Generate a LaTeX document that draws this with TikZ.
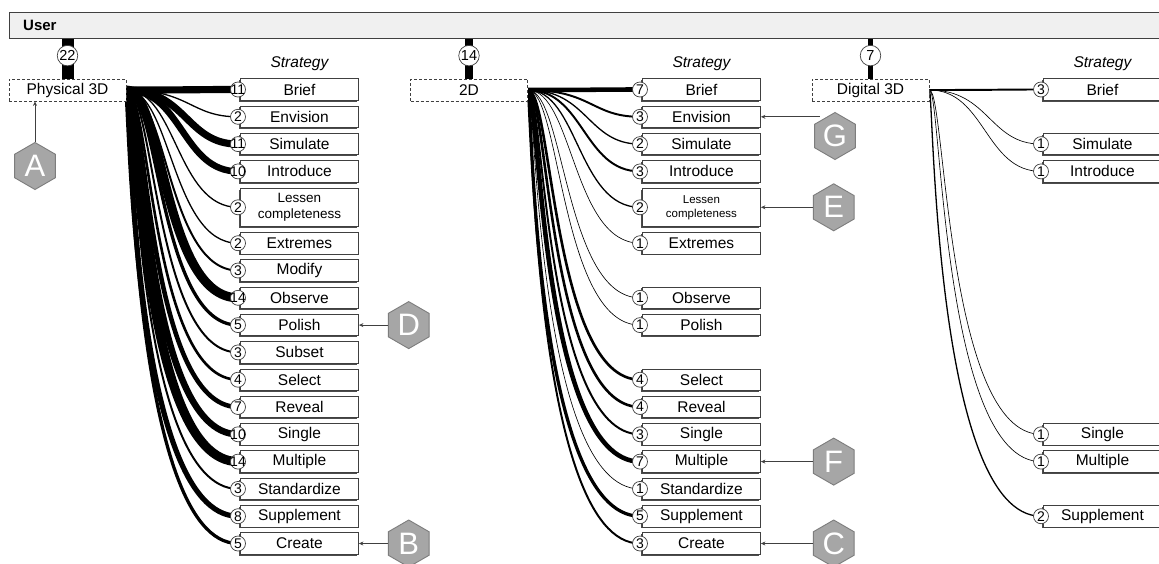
\documentclass[tikz,border=0pt]{standalone}
\usepackage{fontspec}
\setmainfont{Liberation Sans}
\usepackage{tikz}
\usetikzlibrary{positioning, arrows.meta, backgrounds, calc, shapes.geometric, shadows}
\definecolor{ukGray}{RGB}{ 64, 64, 64}
\definecolor{ukBar}{RGB}{240,240,240}
\definecolor{ukHex}{RGB}{166,166,166}
\definecolor{ukHexE}{RGB}{125,125,125}

\newcommand\fs[1]{\fontsize{#1}{#1}\selectfont}
\newcommand\nbox[1]{\makebox[0pt]{#1}}

\begin{document}
\begin{tikzpicture}[x=1pt, y=-1pt,
    every node/.style={font=\fs{15.5}},
    userbar/.style={draw=ukGray, fill=ukBar, line width=0.9pt, minimum width=1170pt,
                    minimum height=26pt, anchor=north west},
    source/.style={draw=ukGray, dash pattern=on 3pt off 2pt, line width=0.8pt, fill=white,
                   minimum width=117pt, minimum height=22pt, inner sep=0pt},
    strat/.style={draw=ukGray, fill=white, line width=0.9pt, minimum width=118pt,
                  minimum height=21.5pt, inner sep=0pt, anchor=west,
                  drop shadow={shadow xshift=-1.2pt, shadow yshift=-1.4pt, fill=black!70, opacity=1}},
    tall/.style={strat, minimum height=38pt, align=center},
    tally/.style={circle, draw=ukGray, fill=white, line width=0.7pt, minimum size=15pt,
                  inner sep=0pt, font=\fs{14}},
    toptally/.style={tally, minimum size=20.5pt, font=\fs{14.5}},
    heading/.style={font=\fs{15.5}\itshape, inner sep=0pt},
    hexa/.style={regular polygon, regular polygon sides=6, shape border rotate=30,
                 minimum size=47pt, inner sep=0pt, fill=ukHex, draw=ukHexE, line width=0.9pt,
                 text=white, font=\fs{31}},
    pointer/.style={draw=ukGray, line width=0.8pt, -{Stealth[length=4.5pt, width=4pt]}},
    flow/.style={line width=#1*0.65pt},
    trunk/.style={line width=#1*0.5pt+1pt}
  ]
  \useasboundingbox (0,0) rectangle (1159,563);
  \begin{scope}[on background layer]
    \fill[white] (0,0) rectangle (1159,563);
  \end{scope}

  % user bar
  \node[userbar] (user) at (9,12) {};
  \node[font=\fs{15}\bfseries, inner sep=0pt, right=14pt of user.west] (userlbl) {User};

  % sources
  \node[source] (p3d) at (67.5,90) {Physical 3D};
  \node[source] (flat) at (469,90) {2D};
  \node[source] (dig) at (870.5,90) {Digital 3D};

  \draw[trunk=22] (p3d.north) -- (p3d.north |- user.south);
  \draw[trunk=14] (flat.north) -- (flat.north |- user.south);
  \draw[trunk=7] (dig.north) -- (dig.north |- user.south);
  \node[toptally] (p3dn) at ([yshift=23pt]p3d.north) {22};
  \node[toptally] (flatn) at ([yshift=23pt]flat.north) {14};
  \node[toptally] (dign) at ([yshift=23pt]dig.north) {7};

  % physical 3D strategies
  \foreach \st/\yy/\nn in {Brief/89.5/11, Envision/116.8/2, Simulate/144.1/11, Introduce/171.4/10,
      Extremes/243.2/2, Modify/270.5/3, Observe/297.8/14, Polish/325.1/5, Subset/352.4/3,
      Select/379.7/4, Reveal/407/7, Single/434.3/10, Multiple/461.6/14, Standardize/488.9/3,
      Supplement/516.2/8, Create/543.5/5} {
    \node[strat] (p-\st) at (240,\yy) {\st};
    \node[tally] (pc-\st) at ([xshift=-2pt]p-\st.west) {\nbox{\nn}};
    \pgfmathsetmacro\bend{max(4,68-0.15*(\yy-89.5))}
    \begin{scope}[on background layer]
      \draw[flow=\nn] (p3d.east) .. controls +(\bend,0) and ($(p3d.east |- pc-\st)+(\bend,0)$) .. (pc-\st.center);
    \end{scope}
  }
  \node[tall, font=\fontsize{13.5}{16.5}\selectfont] (p-Lessen) at (240,207.3) {Lessen\\completeness};
  \node[tally] (pc-Lessen) at ([xshift=-2pt]p-Lessen.west) {2};
  \begin{scope}[on background layer]
    \draw[flow=2] (p3d.east) .. controls +(50,0) and ($(p3d.east |- pc-Lessen)+(50,0)$) .. (pc-Lessen.center);
  \end{scope}
  \node[heading, above=7pt of p-Brief] (p-head) {Strategy};

  % 2D strategies
  \foreach \st/\yy/\nn in {Brief/89.5/7, Envision/116.8/3, Simulate/144.1/2, Introduce/171.4/3,
      Extremes/243.2/1, Observe/297.8/1, Polish/325.1/1, Select/379.7/4, Reveal/407/4,
      Single/434.3/3, Multiple/461.6/7, Standardize/488.9/1, Supplement/516.2/5, Create/543.5/3} {
    \node[strat] (f-\st) at (642,\yy) {\st};
    \node[tally] (fc-\st) at ([xshift=-2pt]f-\st.west) {\nbox{\nn}};
    \pgfmathsetmacro\bend{max(4,68-0.15*(\yy-89.5))}
    \begin{scope}[on background layer]
      \draw[flow=\nn] (flat.east) .. controls +(\bend,0) and ($(flat.east |- fc-\st)+(\bend,0)$) .. (fc-\st.center);
    \end{scope}
  }
  \node[tall, font=\fontsize{11.5}{14}\selectfont] (f-Lessen) at (642,207.3) {Lessen\\completeness};
  \node[tally] (fc-Lessen) at ([xshift=-2pt]f-Lessen.west) {2};
  \begin{scope}[on background layer]
    \draw[flow=2] (flat.east) .. controls +(50,0) and ($(flat.east |- fc-Lessen)+(50,0)$) .. (fc-Lessen.center);
  \end{scope}
  \node[heading, above=7pt of f-Brief] (f-head) {Strategy};

  % digital 3D strategies
  \foreach \st/\yy/\nn in {Brief/89.5/3, Simulate/144.1/1, Introduce/171.4/1,
      Single/434.3/1, Multiple/461.6/1, Supplement/516.2/2} {
    \node[strat] (d-\st) at (1043,\yy) {\st};
    \node[tally] (dc-\st) at ([xshift=-2pt]d-\st.west) {\nbox{\nn}};
    \pgfmathsetmacro\bend{max(4,68-0.15*(\yy-89.5))}
    \begin{scope}[on background layer]
      \draw[flow=\nn] (dig.east) .. controls +(\bend,0) and ($(dig.east |- dc-\st)+(\bend,0)$) .. (dc-\st.center);
    \end{scope}
  }
  \node[heading, above=7pt of d-Brief] (d-head) {Strategy};

  % markers
  \node[hexa] (hexA) at (35,166) {A};
  \node[hexa, right=29pt of p-Polish] (hexD) {D};
  \node[hexa, right=29pt of p-Create] (hexB) {B};
  \node[hexa] (hexG) at (835,136) {G};
  \node[hexa, right=52pt of f-Lessen] (hexE) {E};
  \node[hexa, right=52pt of f-Multiple] (hexF) {F};
  \node[hexa, right=52pt of f-Create] (hexC) {C};

  \draw[pointer] (hexA.north) -- (hexA.north |- p3d.south);
  \draw[pointer] (hexD.west) -- (p-Polish.east);
  \draw[pointer] (hexB.west) -- (p-Create.east);
  \draw[pointer] (hexG.north west |- f-Envision.east) -- (f-Envision.east);
  \draw[pointer] (hexE.west) -- (f-Lessen.east);
  \draw[pointer] (hexF.west) -- (f-Multiple.east);
  \draw[pointer] (hexC.west) -- (f-Create.east);
\end{tikzpicture}
\end{document}
